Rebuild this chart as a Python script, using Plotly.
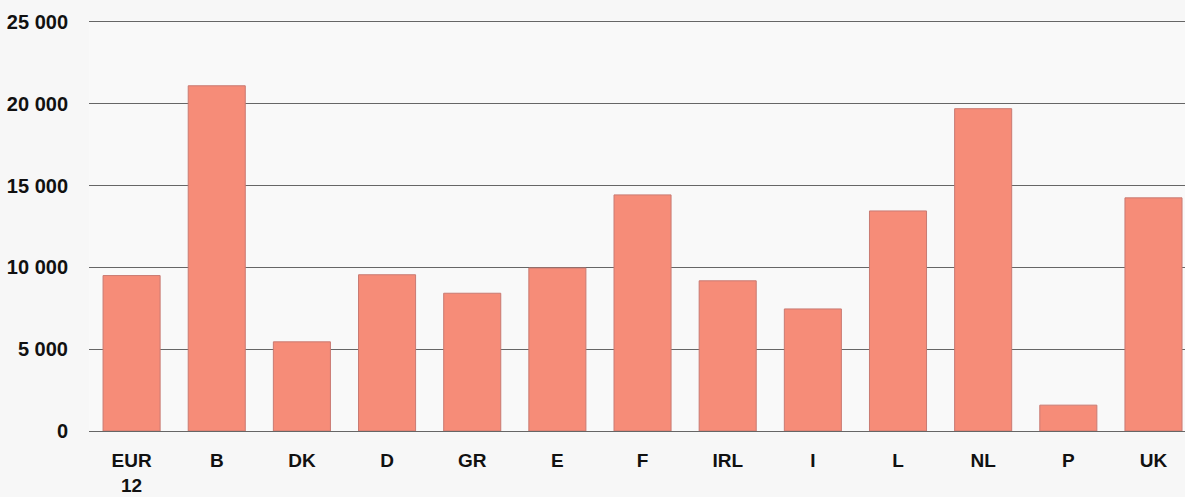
import plotly.graph_objects as go

categories = ["EUR<br>12", "B", "DK", "D", "GR", "E", "F", "IRL", "I", "L", "NL", "P", "UK"]
values = [9500, 21100, 5450, 9550, 8420, 9960, 14430, 9180, 7460, 13450, 19700, 1580, 14250]
ytick_vals = [0, 5000, 10000, 15000, 20000, 25000]
ytick_text = ["0", "5 000", "10 000", "15 000", "20 000", "25 000"]

fig = go.Figure(go.Bar(
    x=list(range(len(categories))),
    y=values,
    marker=dict(color="#F68C78", line=dict(color="#c97a72", width=1)),
    width=0.67,
))

font = dict(family="Liberation Sans, Arial, sans-serif", size=20, color="#111111")
xfont = dict(family="Liberation Sans, Arial, sans-serif", size=19, color="#111111")

fig.update_layout(
    width=1185, height=497,
    margin=dict(l=89, r=0, t=20, b=66, autoexpand=False),
    paper_bgcolor="#f7f7f7",
    plot_bgcolor="#f9f9f9",
    showlegend=False,
    font=font,
    xaxis=dict(
        tickmode="array",
        tickvals=list(range(len(categories))),
        ticktext=["<b>%s</b>" % c for c in categories],
        range=[-0.5, 12.37],
        showgrid=False,
        zeroline=False,
        showline=False,
        automargin=False,
        ticks="outside", ticklen=12, tickcolor="rgba(0,0,0,0)",
        tickfont=xfont,
    ),
    yaxis=dict(
        tickmode="array",
        tickvals=ytick_vals,
        ticktext=["<b>%s</b>" % t for t in ytick_text],
        range=[0, 25120],
        automargin=False,
        showgrid=True, gridcolor="#666666", gridwidth=1,
        zeroline=True, zerolinecolor="#666666", zerolinewidth=1,
        ticks="outside", ticklen=16, tickcolor="rgba(0,0,0,0)",
        tickfont=font,
    ),
)

fig.write_html(
    "out.html",
    config={"displayModeBar": False},
    post_script="document.body.style.margin='0';document.body.style.overflow='hidden';",
)
